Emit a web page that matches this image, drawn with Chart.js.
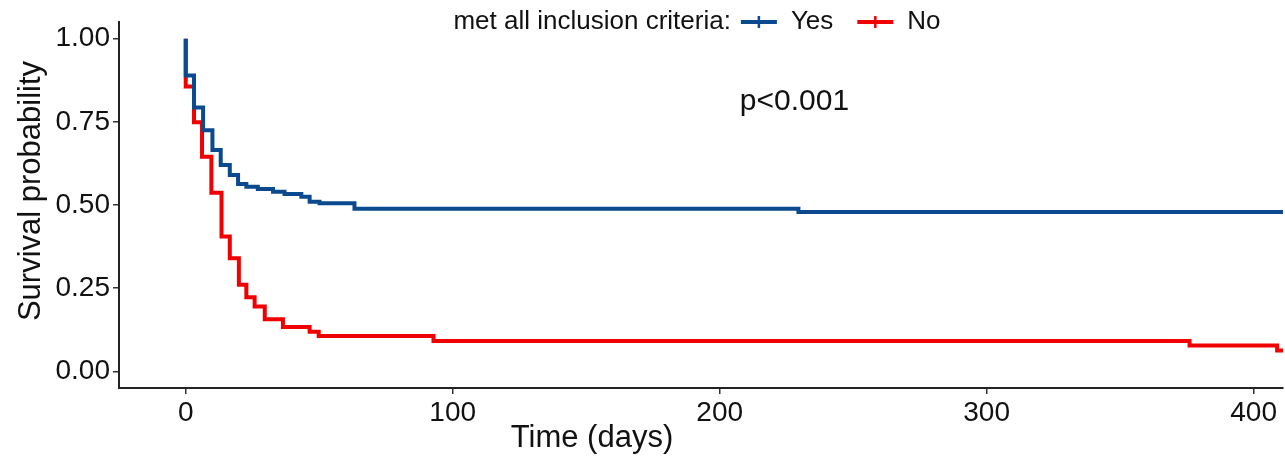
<!DOCTYPE html>
<html lang="en">
<head>
<meta charset="UTF-8">
<title>Survival by inclusion criteria</title>
<script src="https://cdn.jsdelivr.net/npm/chart.js"></script>
<style>
  html, body { margin: 0; padding: 0; background: #fff; }
  #wrap { width: 1285px; height: 460px; position: relative; }
</style>
</head>
<body>
<div id="wrap"><canvas id="kmChart" width="1285" height="460"></canvas></div>
<script>
// Kaplan-Meier steps (days, survival after the step)
const yesDays = [0, 0, 3.1, 6.5, 10, 13.1, 16.5, 19.6, 22.7, 27, 32.7, 37, 43.3, 46.4, 50.1, 63.2, 229.5, 411];
const yesSurv = [1.0, 0.889, 0.793, 0.725, 0.665, 0.62, 0.59, 0.563, 0.555, 0.548, 0.54, 0.533, 0.525, 0.51, 0.505, 0.489, 0.479, 0.479];

const noDays = [0, 0, 3.1, 6.1, 9.6, 13.4, 16.5, 19.9, 22.7, 25.8, 29.6, 36.4, 46.4, 49.8, 92.8, 376, 408.8, 411];
const noSurv = [1.0, 0.856, 0.749, 0.645, 0.537, 0.405, 0.34, 0.26, 0.223, 0.195, 0.157, 0.133, 0.119, 0.106, 0.091, 0.078, 0.063, 0.063];

const groupNames = ['Yes', 'No'];
const groupColors = ['#0B4A8F', '#F00000'];
const legendTitle = 'met all inclusion criteria:';
const pText = 'p<0.001';
const pPos = { x: 228, y: 0.81 };
const xTitle = 'Time (days)';
const yTitle = 'Survival probability';

const xTicks = [0, 100, 200, 300, 400];
const yTicks = [0, 0.25, 0.5, 0.75, 1.0];

function toPoints(days, surv) {
  return days.map((d, i) => ({ x: d, y: surv[i] }));
}

const FONT = "'Liberation Sans', Arial, sans-serif";

// legend across the top, axis titles and the p-value text
const extras = {
  id: 'extras',
  afterDraw(chart) {
    const ctx = chart.ctx;
    const area = chart.chartArea;
    ctx.save();
    ctx.font = '26px ' + FONT;
    ctx.textBaseline = 'middle';
    ctx.fillStyle = '#111';

    const symW = 36, gap1 = 14, gap2 = 24;
    let total = ctx.measureText(legendTitle).width + 10;
    groupNames.forEach(n => { total += symW + gap1 + ctx.measureText(n).width + gap2; });
    total -= gap2;
    let x = 697 - total / 2;
    const y = 22;
    ctx.textAlign = 'left';
    ctx.fillText(legendTitle, x, y);
    x += ctx.measureText(legendTitle).width + 10;
    groupNames.forEach((n, i) => {
      ctx.strokeStyle = groupColors[i];
      ctx.lineWidth = 4;
      ctx.beginPath();
      ctx.moveTo(x, y); ctx.lineTo(x + symW, y);
      ctx.stroke();
      ctx.lineWidth = 2.5;
      ctx.beginPath();
      ctx.moveTo(x + symW / 2, y - 6); ctx.lineTo(x + symW / 2, y + 6);
      ctx.stroke();
      x += symW + gap1;
      ctx.fillStyle = '#111';
      ctx.fillText(n, x, y);
      x += ctx.measureText(n).width + gap2;
    });

    // p-value
    ctx.font = '30px ' + FONT;
    ctx.textAlign = 'center';
    ctx.fillText(pText, chart.scales.x.getPixelForValue(pPos.x), chart.scales.y.getPixelForValue(pPos.y));

    // axis titles
    ctx.font = '31px ' + FONT;
    ctx.fillText(xTitle, 592, 438);
    ctx.translate(31, 191);
    ctx.rotate(-Math.PI / 2);
    ctx.fillText(yTitle, 0, 0);
    ctx.restore();
  }
};

new Chart(document.getElementById('kmChart').getContext('2d'), {
  type: 'line',
  data: {
    datasets: [
      {
        label: groupNames[0],
        data: toPoints(yesDays, yesSurv),
        borderColor: groupColors[0],
        borderWidth: 4,
        stepped: 'before',
        pointRadius: 0,
        fill: false
      },
      {
        label: groupNames[1],
        data: toPoints(noDays, noSurv),
        borderColor: groupColors[1],
        borderWidth: 4,
        stepped: 'before',
        pointRadius: 0,
        fill: false
      }
    ]
  },
  options: {
    responsive: false,
    animation: false,
    events: [],
    layout: { padding: { top: 22, right: 2, left: 0, bottom: 0 } },
    plugins: {
      legend: { display: false },
      tooltip: { enabled: false }
    },
    scales: {
      x: {
        type: 'linear',
        min: -25,
        max: 411,
        afterBuildTicks(scale) { scale.ticks = xTicks.map(v => ({ value: v })); },
        afterFit(scale) { scale.height = 72; },
        ticks: {
          font: { size: 28, family: FONT },
          color: '#111',
          padding: 2,
          maxRotation: 0
        },
        grid: { drawOnChartArea: false, drawTicks: true, tickLength: 6, color: '#333', lineWidth: 1.5 },
        border: { display: true, color: '#222', width: 2 }
      },
      y: {
        type: 'linear',
        min: -0.05,
        max: 1.05,
        afterBuildTicks(scale) { scale.ticks = yTicks.map(v => ({ value: v })); },
        afterFit(scale) { scale.width = 119; },
        ticks: {
          font: { size: 28, family: FONT },
          color: '#111',
          padding: 3,
          callback: v => Number(v).toFixed(2)
        },
        grid: { drawOnChartArea: false, drawTicks: true, tickLength: 6, color: '#333', lineWidth: 1.5 },
        border: { display: true, color: '#222', width: 2 }
      }
    }
  },
  plugins: [extras]
});
</script>
</body>
</html>
